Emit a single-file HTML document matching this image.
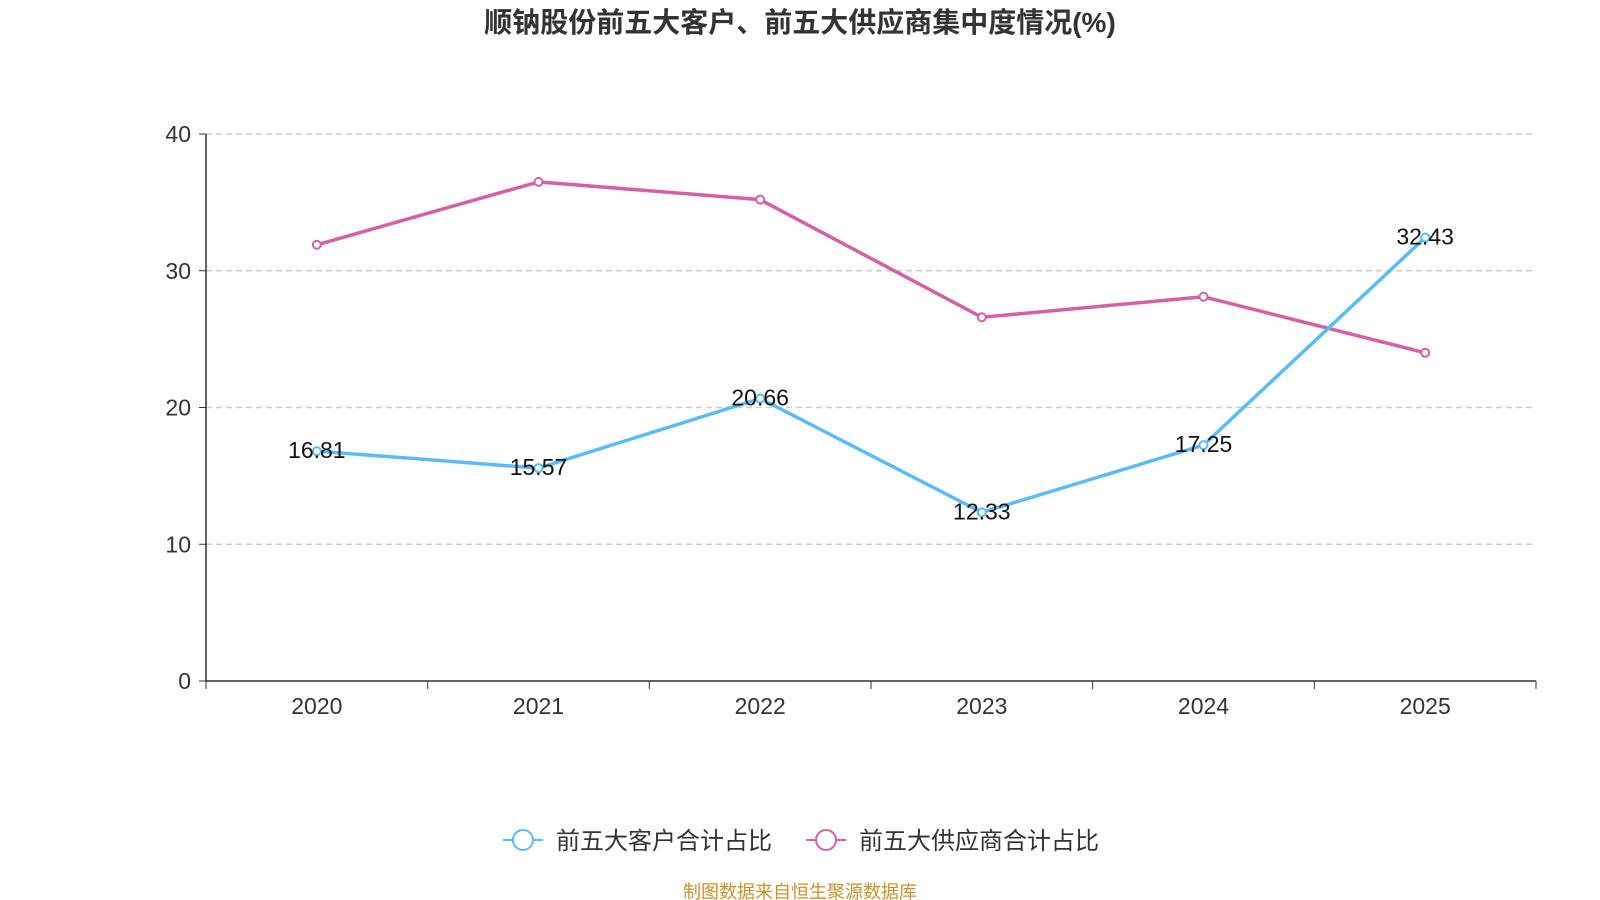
<!DOCTYPE html>
<html><head><meta charset="utf-8"><style>
html,body{margin:0;padding:0;background:#fff;width:1600px;height:900px;overflow:hidden}
svg{display:block;font-family:"Liberation Sans","Noto Sans CJK SC",sans-serif}
</style></head><body>
<svg id="c" width="1600" height="900">
<text x="800" y="32" text-anchor="middle" font-size="28" font-weight="bold" fill="#333">顺钠股份前五大客户、前五大供应商集中度情况(%)</text>
<g id="grid"></g><g id="axes"></g><g id="series"></g>
<g>
<g>
<line x1="503" y1="840" x2="543" y2="840" stroke="#5bbcf5" stroke-width="2"/>
<circle cx="523" cy="840" r="10" fill="#fff" stroke="#5bbcf5" stroke-width="2"/>
<text x="556" y="849" font-size="24" fill="#333">前五大客户合计占比</text></g>
<g>
<line x1="806" y1="840" x2="846" y2="840" stroke="#d660a8" stroke-width="2"/>
<circle cx="826" cy="840" r="10" fill="#fff" stroke="#d660a8" stroke-width="2"/>
<text x="859" y="849" font-size="24" fill="#333">前五大供应商合计占比</text></g>
</g>
<text x="800" y="898" text-anchor="middle" font-size="18" fill="#c8922a">制图数据来自恒生聚源数据库</text>
</svg>
<script>
const categories=["2020","2021","2022","2023","2024","2025"];
const customers=[16.81,15.57,20.66,12.33,17.25,32.43];
const suppliers=[31.9,36.5,35.2,26.6,28.1,24.0];
const yTicks=[0,10,20,30,40];
const NS="http://www.w3.org/2000/svg";
const X0=206,X1=1536,Y0=681,Y1=134,YMAX=40;
const bw=(X1-X0)/categories.length;
const xs=i=>X0+bw*(i+0.5);
const ys=v=>Y0-(v/YMAX)*(Y0-Y1);
function mk(p,t,a){const e=document.createElementNS(NS,t);for(const k in a)e.setAttribute(k,a[k]);p.appendChild(e);return e;}
const grid=document.getElementById('grid'),axes=document.getElementById('axes'),ser=document.getElementById('series');
yTicks.forEach(t=>{
 if(t>0){const g=mk(grid,'line',{x1:X0,x2:X1,y1:ys(t),y2:ys(t),stroke:'#ccc','stroke-dasharray':'6,4','stroke-width':1.5});
 
 }
 mk(axes,'line',{x1:X0-7,x2:X0,y1:ys(t),y2:ys(t),stroke:'#333'});
 const l=mk(axes,'text',{x:X0-15,y:ys(t)+8,'text-anchor':'end','font-size':23,fill:'#333'});l.textContent=t;
 
 
});
const ya=mk(axes,'line',{x1:X0,x2:X0,y1:Y1,y2:Y0,stroke:'#333','stroke-width':1.5});


const xa=mk(axes,'line',{x1:X0,x2:X1,y1:Y0,y2:Y0,stroke:'#333','stroke-width':1.5});


for(let i=0;i<=categories.length;i++)mk(axes,'line',{x1:X0+bw*i,x2:X0+bw*i,y1:Y0,y2:Y0+8,stroke:'#333'});
categories.forEach((c,i)=>{const l=mk(axes,'text',{x:xs(i),y:Y0+33,'text-anchor':'middle','font-size':23,fill:'#333'});l.textContent=c;
 
 });
function line(vals,color,name,labels){
 const p=mk(ser,'polyline',{points:vals.map((v,i)=>xs(i)+','+ys(v)).join(' '),fill:'none',stroke:color,'stroke-width':3.5});
 
 
 vals.forEach((v,i)=>{const c=mk(ser,'circle',{cx:xs(i),cy:ys(v),r:4,fill:'#fff',stroke:color,'stroke-width':2});
  
  
  if(labels){const t=mk(ser,'text',{x:xs(i),y:ys(v)+7,'text-anchor':'middle','font-size':23,fill:'#111'});t.textContent=v.toFixed(2);
  
  }});
}
line(suppliers,'#d660a8','suppliers',false);
line(customers,'#5bbcf5','customers',true);
</script>
</body></html>
